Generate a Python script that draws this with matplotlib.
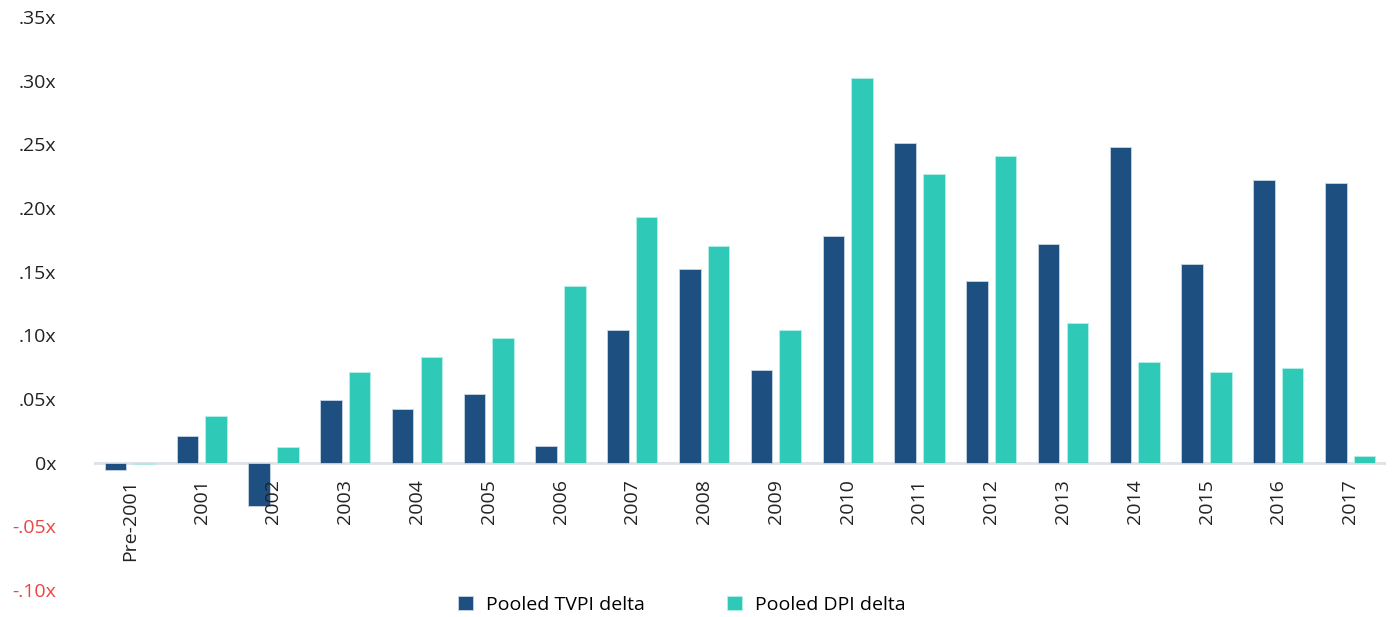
import matplotlib
matplotlib.use("Agg")
import matplotlib.pyplot as plt
import numpy as np

# vintage years and the two pooled deltas per vintage
vintages = ["Pre-2001", "2001", "2002", "2003", "2004", "2005", "2006", "2007", "2008",
            "2009", "2010", "2011", "2012", "2013", "2014", "2015", "2016", "2017"]
tvpi_delta = [-0.006, 0.021, -0.034, 0.049, 0.042, 0.054, 0.013, 0.104, 0.152,
              0.073, 0.178, 0.251, 0.143, 0.172, 0.248, 0.156, 0.222, 0.220]
dpi_delta = [-0.001, 0.037, 0.012, 0.071, 0.083, 0.098, 0.139, 0.193, 0.170,
             0.104, 0.302, 0.227, 0.241, 0.110, 0.079, 0.071, 0.074, 0.005]
y_ticks = [-0.10, -0.05, 0.0, 0.05, 0.10, 0.15, 0.20, 0.25, 0.30, 0.35]
y_labels = ["-.10x", "-.05x", "0x", ".05x", ".10x", ".15x", ".20x", ".25x", ".30x", ".35x"]

TVPI_COLOR = "#1d4f80"
DPI_COLOR = "#2ec9b7"

plt.rcParams["font.family"] = ["Open Sans", "DejaVu Sans"]

fig = plt.figure(figsize=(13.92, 6.17), dpi=100)
ax = fig.add_axes([0.0675, 0.0438, 0.9282, 0.9286])

x = np.arange(len(vintages))
w = 0.3
ax.bar(x - 0.2, tvpi_delta, w, color=TVPI_COLOR, edgecolor="#c9d6e6", linewidth=0.6,
       label="Pooled TVPI delta", zorder=2)
ax.bar(x + 0.2, dpi_delta, w, color=DPI_COLOR, edgecolor="#b8efe8", linewidth=0.6,
       label="Pooled DPI delta", zorder=2)

# baseline at zero
ax.axhline(0, color="#dfe4ea", linewidth=2.2, zorder=1)

ax.set_xlim(-0.5, len(vintages) - 0.5)
ax.set_ylim(-0.10, 0.35)

ax.set_yticks(y_ticks)
ax.set_yticklabels(y_labels, fontsize=14, color="#222222")
for lbl, v in zip(ax.get_yticklabels(), y_ticks):
    if v < 0:
        lbl.set_color("#f04343")
ax.tick_params(axis="y", length=0, pad=27)

# category labels hang just under the zero line
ax.tick_params(axis="x", which="both", bottom=False, labelbottom=False)
for xi, name in zip(x, vintages):
    ax.annotate(name, xy=(xi, 0), xytext=(0, -12), textcoords="offset points",
                rotation=90, ha="center", va="top", fontsize=14, color="#222222")

for s in ax.spines.values():
    s.set_visible(False)

fig.legend(loc="center", bbox_to_anchor=(682 / 1392, 1 - 605 / 617), ncol=2,
           frameon=False, fontsize=14, handlelength=0.75, handleheight=0.75,
           columnspacing=4.2, handletextpad=0.7)

fig.savefig("out.png", dpi=100, facecolor="white")
